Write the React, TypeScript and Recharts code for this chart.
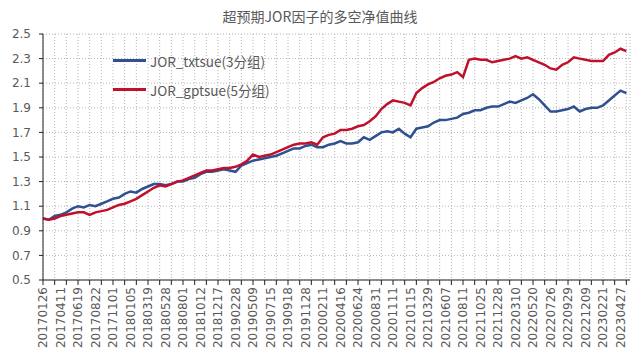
import { CartesianGrid, Line, LineChart, XAxis, YAxis } from "recharts";

const TITLE = "超预期JOR因子的多空净值曲线";
const SERIES_BLUE = "JOR_txtsue(3分组)";
const SERIES_RED = "JOR_gptsue(5分组)";

// date labels shown on the category axis (one every 48 trading days)
const DATE_LABELS = [
  "20170126", "20170411", "20170619", "20170822", "20171101", "20180105",
  "20180319", "20180528", "20180801", "20181012", "20181217", "20190228",
  "20190509", "20190715", "20190918", "20191128", "20200211", "20200416",
  "20200624", "20200831", "20201111", "20210115", "20210329", "20210607",
  "20210811", "20211025", "20211228", "20220310", "20220520", "20220726",
  "20220929", "20221209", "20230221", "20230427",
];

// net value, one point every 16 trading days
const BLUE_VALUES = [
  1.0, 0.99, 1.02, 1.03, 1.05, 1.08, 1.1, 1.09, 1.11, 1.1,
  1.12, 1.14, 1.16, 1.17, 1.2, 1.22, 1.21, 1.24, 1.26, 1.28,
  1.28, 1.27, 1.28, 1.3, 1.3, 1.32, 1.33, 1.36, 1.38, 1.38,
  1.39, 1.4, 1.39, 1.38, 1.43, 1.45, 1.47, 1.48, 1.49, 1.5,
  1.51, 1.53, 1.55, 1.57, 1.57, 1.59, 1.6, 1.58, 1.58, 1.6,
  1.61, 1.63, 1.61, 1.61, 1.62, 1.66, 1.64, 1.67, 1.7, 1.71,
  1.7, 1.73, 1.69, 1.66, 1.73, 1.74, 1.75, 1.78, 1.8, 1.8,
  1.81, 1.82, 1.85, 1.86, 1.88, 1.88, 1.9, 1.91, 1.91, 1.93,
  1.95, 1.94, 1.96, 1.98, 2.01, 1.97, 1.92, 1.87, 1.87, 1.88,
  1.89, 1.91, 1.87, 1.89, 1.9, 1.9, 1.92, 1.96, 2.0, 2.04,
  2.02,
];

const RED_VALUES = [
  1.0, 0.99, 1.0, 1.02, 1.03, 1.04, 1.05, 1.05, 1.03, 1.05,
  1.06, 1.07, 1.09, 1.11, 1.12, 1.14, 1.16, 1.19, 1.22, 1.25,
  1.27, 1.26, 1.28, 1.3, 1.31, 1.33, 1.35, 1.37, 1.39, 1.39,
  1.4, 1.41, 1.41, 1.42, 1.44, 1.47, 1.52, 1.5, 1.51, 1.52,
  1.54, 1.56, 1.58, 1.6, 1.61, 1.61, 1.62, 1.6, 1.66, 1.68,
  1.69, 1.72, 1.72, 1.73, 1.75, 1.76, 1.79, 1.83, 1.89, 1.93,
  1.96, 1.95, 1.94, 1.92, 2.02, 2.06, 2.09, 2.11, 2.14, 2.16,
  2.17, 2.19, 2.15, 2.29, 2.3, 2.29, 2.29, 2.27, 2.28, 2.29,
  2.3, 2.32, 2.3, 2.31, 2.29, 2.27, 2.25, 2.22, 2.21, 2.25,
  2.27, 2.31, 2.3, 2.29, 2.28, 2.28, 2.28, 2.33, 2.35, 2.38,
  2.36,
];

const Y_TICKS = [0.5, 0.7, 0.9, 1.1, 1.3, 1.5, 1.7, 1.9, 2.1, 2.3, 2.5];

const STEP = 16;
const LABEL_EVERY = 48;
const TICK_EVERY = 32;
const X_MAX = 1610;

const BLUE = "#2f5191";
const RED = "#c0102c";
const TEXT = "#595959";
const NUM_FONT = "'DejaVu Sans', sans-serif";
const CJK_FONT = "'Noto Sans CJK SC', sans-serif";

const rows = BLUE_VALUES.map((v, i) => ({ x: i * STEP, blue: v, red: RED_VALUES[i] }));
const gridTicks = Array.from({ length: Math.floor(X_MAX / TICK_EVERY) + 1 }, (_, i) => i * TICK_EVERY);
const labelTicks = DATE_LABELS.map((_, i) => i * LABEL_EVERY);

function DateTick({ x, y, payload }: { x?: number; y?: number; payload?: { value: number } }) {
  const idx = Math.round((payload?.value ?? 0) / LABEL_EVERY);
  return (
    <text
      x={x}
      y={y}
      transform={`rotate(-90, ${x}, ${y})`}
      textAnchor="end"
      dy="0.36em"
      fontSize={12}
      fontFamily={NUM_FONT}
      fill={TEXT}
    >
      {DATE_LABELS[idx]}
    </text>
  );
}

function LegendBox() {
  const items = [
    { name: SERIES_BLUE, color: BLUE },
    { name: SERIES_RED, color: RED },
  ];
  return (
    <div style={{ position: "absolute", left: 113, top: 46 }}>
      {items.map((it) => (
        <div key={it.name} style={{ display: "flex", alignItems: "center", height: 29 }}>
          <span style={{ display: "inline-block", width: 33, height: 2.5, background: it.color, marginRight: 4 }} />
          <span style={{ fontFamily: CJK_FONT, fontSize: 13.5, color: TEXT, lineHeight: "18px" }}>{it.name}</span>
        </div>
      ))}
    </div>
  );
}

export default function App() {
  return (
    <div style={{ position: "absolute", left: 0, top: 0, width: 636, height: 357, background: "#fff" }}>
      <div
        style={{
          position: "absolute",
          left: 0,
          top: 6,
          width: 640,
          textAlign: "center",
          fontFamily: CJK_FONT,
          fontSize: 14,
          color: TEXT,
        }}
      >
        {TITLE}
      </div>
      <LineChart width={636} height={357} data={rows} margin={{ top: 34, right: 6, left: 0, bottom: 0 }}>
        <CartesianGrid stroke="#b4b4b4" strokeDasharray="1 2" />
        <XAxis
          dataKey="x"
          type="number"
          domain={[0, X_MAX]}
          ticks={gridTicks}
          tickFormatter={() => ""}
          tickSize={5}
          height={7}
          stroke="#222"
          interval={0}
          allowDataOverflow
        />
        <XAxis
          xAxisId="labels"
          dataKey="x"
          type="number"
          domain={[0, X_MAX]}
          ticks={labelTicks}
          tick={<DateTick />}
          tickLine={false}
          axisLine={false}
          tickSize={0}
          tickMargin={0}
          height={70}
          interval={0}
          allowDataOverflow
        />
        <YAxis
          type="number"
          domain={[0.5, 2.5]}
          ticks={Y_TICKS}
          tickFormatter={(v: number) => v.toFixed(1)}
          width={43}
          tickSize={4}
          tickMargin={8}
          stroke="#222"
          tick={{ fill: TEXT, fontSize: 12, fontFamily: NUM_FONT }}
          interval={0}
        />
        <Line
          type="linear"
          dataKey="blue"
          stroke={BLUE}
          strokeWidth={2.5}
          dot={false}
          isAnimationActive={false}
        />
        <Line
          type="linear"
          dataKey="red"
          stroke={RED}
          strokeWidth={2.5}
          dot={false}
          isAnimationActive={false}
        />
      </LineChart>
      <LegendBox />
    </div>
  );
}
